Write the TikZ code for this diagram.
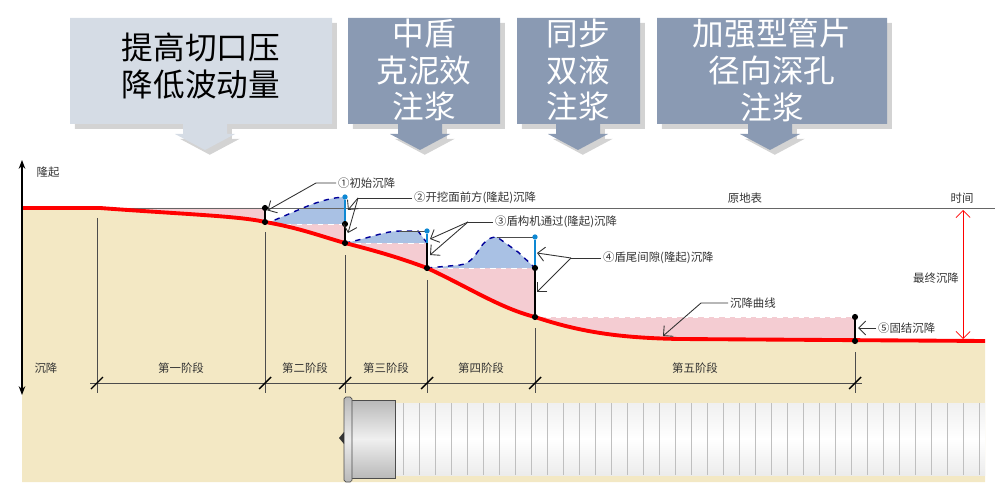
\documentclass[tikz,border=0pt]{standalone}
\usepackage{fontspec}
\setmainfont{Noto Sans CJK SC}
\usetikzlibrary{arrows.meta,shadows}
\definecolor{soil}{HTML}{F3E8C4}
\definecolor{pinkz}{HTML}{F4CCD2}
\definecolor{bluez}{HTML}{A9C1E4}
\definecolor{boxa}{HTML}{D5DCE5}
\definecolor{boxb}{HTML}{8A9AB3}
\tikzset{
  lab/.style={font=\fontsize{6.5}{7}\selectfont, text=black!80, inner sep=1pt},
  big/.style={font=\fontsize{18}{21}\selectfont, align=center},
  callout/.style={fill=#1, drop shadow={opacity=.35}},
  lead/.style={black!80, line width=.5pt},
  pt/.style={circle, fill=black, inner sep=0pt, minimum size=3.5pt},
  bpt/.style={circle, fill=cyan!70!blue, inner sep=0pt, minimum size=3pt},
}
\begin{document}
\begin{tikzpicture}[x=0.02cm,y=-0.02cm]
\useasboundingbox (0,0) rectangle (1000,493);
% callouts
\foreach \xa/\xb/\xt/\c in {70/332/205/boxa,348/500/420/boxb,517/640/578/boxb,657/887/770/boxb}
  \fill[callout=\c] (\xa,18) -- (\xb,18) -- (\xb,124) -- (\xt+22,124) -- (\xt+22,134)
    -- (\xt+30,134) -- (\xt,150) -- (\xt-30,134) -- (\xt-22,134) -- (\xt-22,124) -- (\xa,124) -- cycle;
\node[big] (c1) at (201,66) {提高切口压\\降低波动量};
\node[big,text=white] (c2) at (424,70) {中盾\\克泥效\\注浆};
\node[big,text=white] (c3) at (578,70) {同步\\双液\\注浆};
\node[big,text=white] (c4) at (772,70) {加强型管片\\径向深孔\\注浆};
% soil
\fill[soil] (22,208) -- (100,208) .. controls (180,214) and (240,216) .. (265,222)
  .. controls (300,228) and (320,236) .. (345,243) .. controls (380,252) and (400,258) .. (427,268)
  .. controls (470,288) and (500,308) .. (535,317) .. controls (580,332) and (620,338) .. (680,339)
  -- (985,341) -- (985,482) -- (22,482) -- cycle;
% pink
\fill[pinkz] (100,208) -- (265,208) -- (265,222) .. controls (180,214) and (240,216) .. (100,208) -- cycle;
\fill[pinkz] (265,224) -- (345,224) -- (345,243) .. controls (320,236) and (300,228) .. (265,222) -- cycle;
\fill[pinkz] (345,243) -- (427,243) -- (427,268) .. controls (400,258) and (380,252) .. (345,243) -- cycle;
\fill[pinkz] (427,268) -- (535,268) -- (535,317) .. controls (500,308) and (470,288) .. (427,268) -- cycle;
\fill[pinkz] (535,317) -- (855,317) -- (855,341) -- (680,339) .. controls (620,338) and (580,332) .. (535,317) -- cycle;
% humps
\fill[bluez] (265,224) .. controls (300,210) and (320,198) .. (345,197) -- (345,224) -- cycle;
\draw[blue!60!black,dashed,thick] (265,224) .. controls (300,210) and (320,198) .. (345,197);
\fill[bluez] (345,243) .. controls (370,238) and (385,231) .. (400,231) -- (418,231) -- (427,243) -- cycle;
\draw[blue!60!black,dashed,thick] (345,243) .. controls (370,238) and (385,231) .. (400,231) -- (418,231) -- (427,243);
\fill[bluez] (427,268) -- (460,265) .. controls (480,262) and (478,237) .. (497,237) -- (518,252) -- (535,268) -- cycle;
\draw[blue!60!black,dashed,thick] (427,268) -- (460,265) .. controls (480,262) and (478,237) .. (497,237) -- (518,252) -- (535,268);
\draw[white,dashed] (265,224) -- (345,224) (345,243) -- (427,243) (427,268) -- (535,268) (535,317) -- (855,317);
\draw[black!70,thin] (400,231) -- (427,231) (497,237) -- (535,237);
% original surface and red curve
\draw[black!60] (22,208) -- (995,208);
\draw[red,line width=2.2pt] (22,208) -- (100,208) .. controls (180,214) and (240,216) .. (265,222)
  .. controls (300,228) and (320,236) .. (345,243) .. controls (380,252) and (400,258) .. (427,268)
  .. controls (470,288) and (500,308) .. (535,317) .. controls (580,332) and (620,338) .. (680,339)
  -- (985,341);
% step lines and points
\node[pt] (a1) at (265,208) {}; \node[pt] (a2) at (265,222) {};
\node[bpt] (b1) at (345,197) {}; \node[pt] (b2) at (345,224) {}; \node[pt] (b3) at (345,243) {};
\node[bpt] (d1) at (427,231) {}; \node[pt] (d2) at (427,268) {};
\node[bpt] (e1) at (535,237) {}; \node[pt] (e2) at (535,268) {}; \node[pt] (e3) at (535,317) {};
\node[pt] (f1) at (855,317) {}; \node[pt] (f2) at (855,341) {};
\draw[thick] (a1) -- (a2) (b2) -- (b3) (d1 |- b3) -- (d2) (e2) -- (e3) (f1) -- (f2);
\draw[cyan!70!blue,thick] (b1) -- (b2) (d1) -- (d1 |- b3) (e1) -- (e2);
% stages
\foreach \x/\y in {97/218,265/232,345/255,427/280,535/328,855/352}
  \draw[black!70] (\x,\y) -- (\x,393);
\draw[black!70] (90,383) -- (862,383);
\foreach \x in {97,265,345,427,535,855}
  \draw[black,thick] (\x-6,389) -- (\x+6,377);
\foreach \xa/\xb/\t in {97/265/第一阶段,265/345/第二阶段,345/427/第三阶段,427/535/第四阶段,535/855/第五阶段}
  \node[lab] at ({(\xa+\xb)/2},368) {\t};
% axis
\draw[{Stealth[length=5pt]}-{Stealth[length=5pt]},thick] (22,160) -- (22,395);
\node[lab] (up) at (48,172) {隆起};
\node[lab] (dn) at (46,368) {沉降};
\node[lab] (t) at (962,198) {时间};
\node[lab] (g) at (745,198) {原地表};
\draw[red,{Straight Barb[length=4pt]}-{Straight Barb[length=4pt]}] (963,210) -- (963,339);
\node[lab] (fs) at (936,278) {最终沉降};
% callout labels
\node[lab,anchor=west] (l1) at (336,183) {①初始沉降};
\draw[lead,-{Straight Barb[length=4pt]}] (l1.west) -- (316,183) -- (a1.south east);
\node[lab,anchor=west] (l2) at (412,198) {②开挖面前方(隆起)沉降};
\draw[lead] (l2.west) -- (358,198);
\draw[lead,-{Straight Barb[length=4pt]}] (358,198) -- (348,210);
\draw[lead,-{Straight Barb[length=4pt]}] (358,198) -- (348,233);
\node[lab,anchor=west] (l3) at (493,222) {③盾构机通过(隆起)沉降};
\draw[lead] (l3.west) -- (468,222);
\draw[lead,-{Straight Barb[length=4pt]}] (468,222) -- (430,239);
\draw[lead,-{Straight Barb[length=4pt]}] (468,222) -- (430,255);
\node[lab,anchor=west] (l4) at (601,258) {④盾尾间隙(隆起)沉降};
\draw[lead] (l4.west) -- (571,258);
\draw[lead,-{Straight Barb[length=4pt]}] (571,258) -- (537,253);
\draw[lead,-{Straight Barb[length=4pt]}] (571,258) -- (537,292);
\node[lab,anchor=west] (l5) at (728,303) {沉降曲线};
\draw[lead,-{Straight Barb[length=4pt]}] (l5.west) -- (701,303) -- (663,336);
\node[lab,anchor=west] (l6) at (876,328) {⑤固结沉降};
\draw[lead,-{Straight Barb[length=4pt]}] (l6.west) -- (858,328);
% tunnel
\shade[top color=gray!12,bottom color=gray!15,middle color=white] (387,403) rectangle (985,475);
\foreach \x in {403,419,...,985} \draw[gray!50] (\x,403) -- (\x,475);
\shade[top color=gray!55,bottom color=gray!55,middle color=gray!12,draw=black!70] (350,400) rectangle (395,478);
\shade[top color=gray!55,bottom color=gray!55,middle color=gray!15,draw=black!70,rounded corners=1pt] (344,397) rectangle (352,482);
\fill[black!80] (344,432) -- (339,438) -- (344,444) -- cycle;
\end{tikzpicture}
\end{document}
